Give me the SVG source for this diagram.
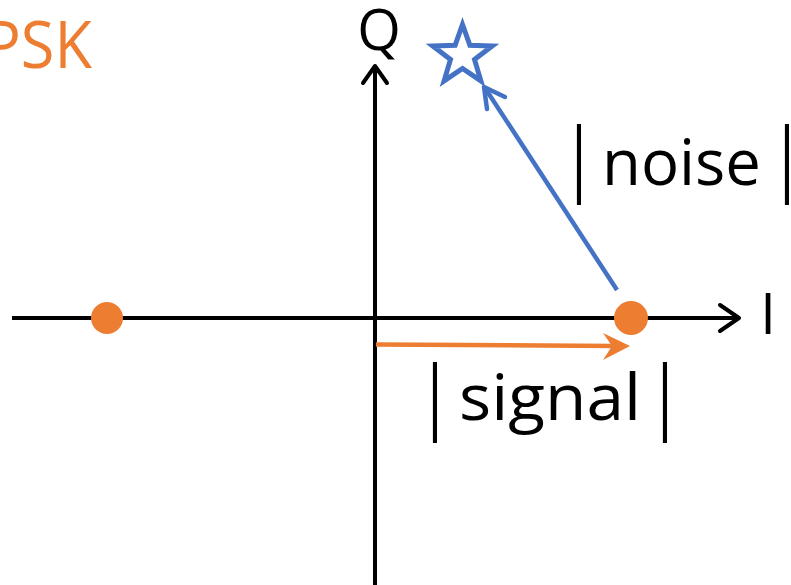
<svg xmlns="http://www.w3.org/2000/svg" width="791" height="585" viewBox="0 0 791 585">
<style>
.lbl{font-family:"Open Sans","Liberation Sans",sans-serif;fill:#000}
.bar{font-family:"Open Sans","Liberation Sans",sans-serif;fill:#000;font-size:60px;text-anchor:middle}
.axis{stroke:#000;stroke-width:4;fill:none}
.chev{stroke-linecap:round;stroke-linejoin:round;fill:none}
</style>
<rect width="791" height="585" fill="#fff"/>
<text id="title" x="-16" y="68" textLength="108" lengthAdjust="spacingAndGlyphs" style="font-family:'Open Sans','Liberation Sans',sans-serif;font-size:66px;fill:#ED7D31">PSK</text>
<g id="connectors">
  <g id="i-axis">
    <line class="axis" x1="12" y1="318" x2="738" y2="318"/>
    <polyline class="axis chev" points="720,305 739,318 720,331"/>
  </g>
  <g id="q-axis">
    <line class="axis" x1="375" y1="585" x2="375" y2="68"/>
    <polyline class="axis chev" points="363,83 375,66 387,83"/>
  </g>
  <g id="signal-arrow">
    <line x1="376" y1="344.5" x2="615" y2="346" stroke="#ED7D31" stroke-width="4.5"/>
    <polygon points="630,346 603,333 612,346 603,360" fill="#ED7D31"/>
  </g>
  <g id="noise-arrow">
    <line x1="617" y1="290" x2="485" y2="88" stroke="#4472C4" stroke-width="4.5"/>
    <polyline class="chev" points="487,109 484,87 505,97" stroke="#4472C4" stroke-width="4.5"/>
  </g>
</g>
<g id="point-left"><circle cx="107" cy="318" r="16" fill="#ED7D31"/></g>
<g id="point-right"><circle cx="631" cy="318" r="17" fill="#ED7D31"/></g>
<g id="star">
  <polygon points="462.5,24.5 469.9,45.3 492.2,46.0 474.5,59.5 480.9,80.9 462.5,68.5 444.1,80.9 450.5,59.5 432.8,46.0 455.1,45.3" fill="#fff" stroke="#4472C4" stroke-width="5" stroke-linejoin="miter"/>
</g>
<g id="label-q"><text class="lbl" x="379" y="50" text-anchor="middle" style="font-size:56px">Q</text></g>
<g id="label-i"><text class="lbl" x="768" y="334" text-anchor="middle" style="font-size:56px">I</text></g>
<g id="label-signal">
  <text class="bar" transform="translate(435,424) scale(1,1.33)">|</text>
  <text class="lbl" x="459" y="420" textLength="182" lengthAdjust="spacingAndGlyphs" style="font-size:64px">signal</text>
  <text class="bar" transform="translate(665,424) scale(1,1.33)">|</text>
</g>
<g id="label-noise">
  <text class="bar" transform="translate(579,186) scale(1,1.33)">|</text>
  <text class="lbl" x="602" y="185" textLength="159" lengthAdjust="spacingAndGlyphs" style="font-size:64px">noise</text>
  <text class="bar" transform="translate(787,186) scale(1,1.33)">|</text>
</g>
</svg>
